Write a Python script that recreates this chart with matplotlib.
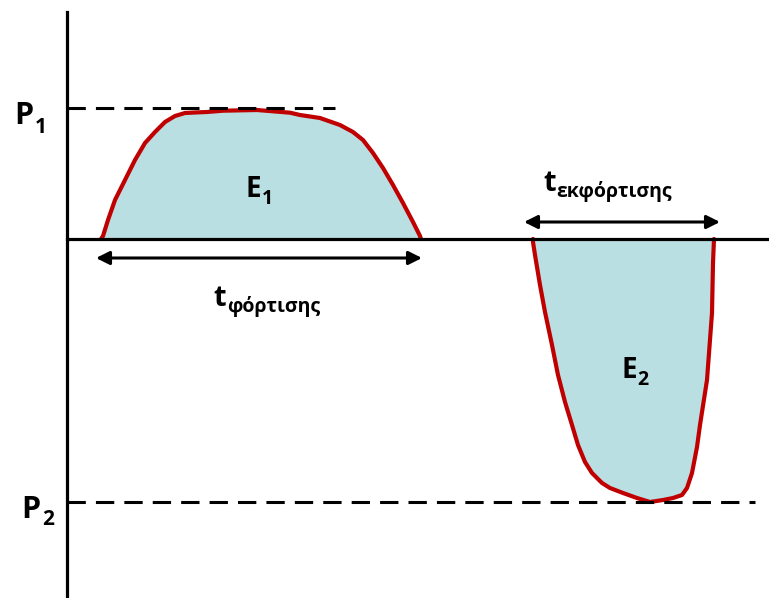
import matplotlib.pyplot as plt

# schematic in pixel-like units (y grows downward)
zero_y = 239
p1_y = 108
p2_y = 502

# charging curve (above the axis)
charge_x = [101, 103, 108, 115, 125, 135, 145, 155, 165, 175, 185, 195, 207, 223, 257,
            290, 300, 320, 340, 353, 363, 373, 383, 393, 403, 413, 420, 421]
charge_y = [239, 236, 220, 200, 180, 160, 143, 132, 122, 116, 113, 112.5, 112, 110.7, 110,
            112.7, 115, 118, 125, 132, 140, 153, 168, 185, 203, 222, 236, 239]

# discharging curve (below the axis)
dis_x = [533, 533, 535, 540, 545, 552, 558, 565, 572, 578, 585, 592, 602, 610, 623, 637,
         650, 663, 673, 682, 687, 692, 697, 700, 707, 712, 713, 714]
dis_y = [239, 242, 255, 285, 312, 345, 375, 402, 425, 445, 462, 473, 483, 488, 493, 498,
         502, 500, 498, 495, 488, 473, 447, 425, 380, 313, 263, 239]

red = '#c00000'
fill = '#badfe2'
font = ['Open Sans', 'DejaVu Sans']

fig = plt.figure(figsize=(7.69, 5.98), dpi=100)
ax = fig.add_axes([0, 0, 1, 1])
ax.set_xlim(0, 769)
ax.set_ylim(598, 0)
ax.axis('off')

# areas
ax.fill_between(charge_x, charge_y, zero_y, color=fill, lw=0)
ax.fill_between(dis_x, dis_y, zero_y, color=fill, lw=0)
ax.plot(charge_x, charge_y, color=red, lw=3, solid_capstyle='round', solid_joinstyle='round')
ax.plot(dis_x, dis_y, color=red, lw=3, solid_capstyle='round', solid_joinstyle='round')

# axes lines
ax.plot([67, 67], [12, 598], color='black', lw=2.3)
ax.plot([67, 769], [zero_y, zero_y], color='black', lw=2.3)

# P levels
ax.plot([67, 335], [p1_y, p1_y], color='black', lw=2.2, dashes=(6, 3.3))
ax.plot([67, 755], [p2_y, p2_y], color='black', lw=2.2, dashes=(6, 3.3))

# time arrows
ax.annotate('', xy=(96, 258), xytext=(422, 258),
            arrowprops=dict(arrowstyle='<|-|>', color='black', lw=2.2, mutation_scale=20,
                            shrinkA=0, shrinkB=0))
ax.annotate('', xy=(524, 222), xytext=(720, 222),
            arrowprops=dict(arrowstyle='<|-|>', color='black', lw=2.2, mutation_scale=20,
                            shrinkA=0, shrinkB=0))


def label(x, y, main, sub, size, sub_size, dx, dy):
    ax.text(x, y, main, fontsize=size, fontweight='bold', family=font,
            ha='left', va='baseline')
    ax.text(x + dx, y + dy, sub, fontsize=sub_size, fontweight='bold', family=font,
            ha='left', va='baseline')


label(14, 124, 'P', '1', 22, 15, 21, 9)
label(21, 518, 'P', '2', 22, 15, 21, 7)
label(246, 197, 'E', '1', 20, 14, 16, 7)
label(621, 378, 'E', '2', 20, 14, 16, 7)
label(213, 306, 't', 'φόρτισης', 21, 14, 14, 6)
label(543, 191, 't', 'εκφόρτισης', 21, 14, 13, 6)

plt.savefig('out.png', dpi=100)
